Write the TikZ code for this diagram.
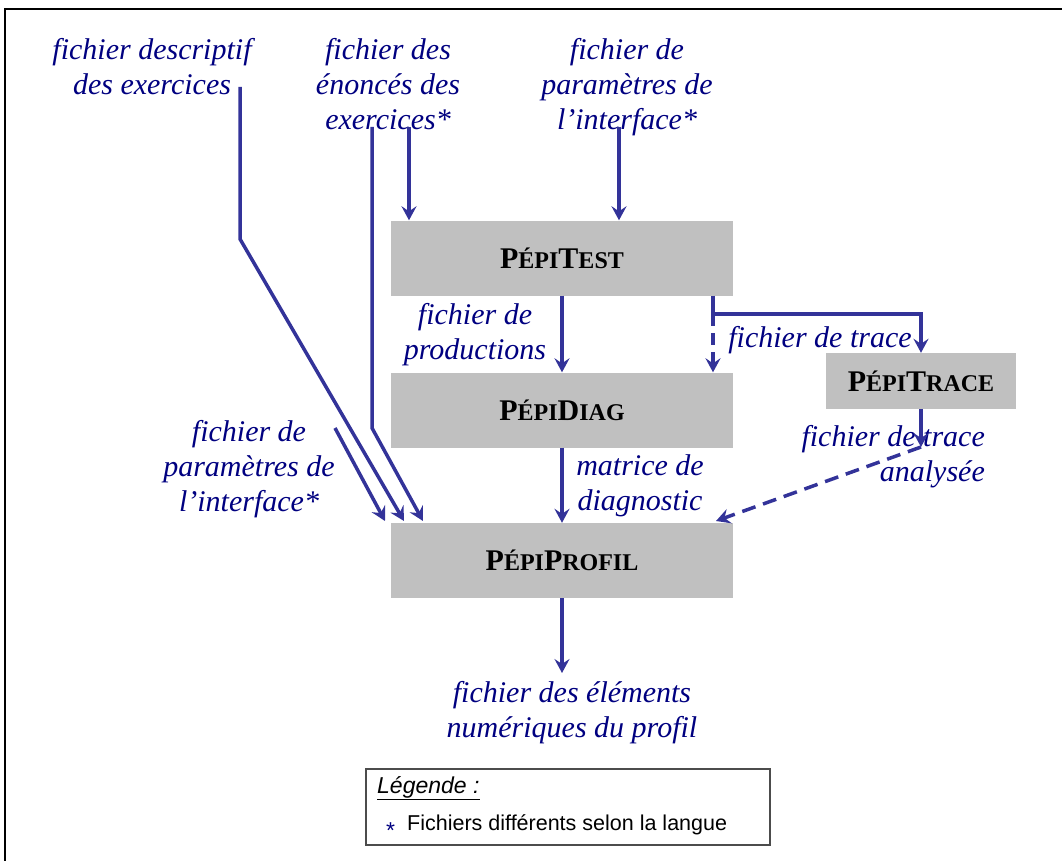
\documentclass[tikz,border=0pt]{standalone}
\usepackage{fontspec}
\setmainfont{Liberation Serif}
\setsansfont{Liberation Sans}
\usepackage{tikz}
\usetikzlibrary{arrows.meta}
\definecolor{flowblue}{RGB}{51,51,153}
\definecolor{fileblue}{RGB}{0,0,128}
\definecolor{progray}{RGB}{192,192,192}
\newcommand{\smc}[1]{{\fontsize{24}{24}\selectfont #1}}

\begin{document}
\begin{tikzpicture}[x=1pt,y=-1pt,
    prog/.style={fill=progray, minimum width=342pt, minimum height=75pt, inner sep=0pt,
      font=\fontsize{30}{30}\selectfont\bfseries},
    file/.style={text=fileblue, inner sep=0pt, align=center, font=\fontsize{30}{35}\selectfont\itshape},
    flow/.style={draw=flowblue, line width=3.5pt, -{Stealth[length=14pt,width=15pt,inset=5pt]}},
    legtext/.style={anchor=base west, inner sep=0pt, font=\sffamily\fontsize{21.5}{21.5}\selectfont}]
      \useasboundingbox (0,0) rectangle (1062,861);
      \draw [line width=2pt] (5,861) -- (5,9) -- (1062,9);
      % programmes
      \node (test) [prog] at (562,258) {P\smc{ÉPI}T\smc{EST}};
      \node (diag) [prog] at (562,410) {P\smc{ÉPI}D\smc{IAG}};
      \node (profil) [prog] at (562,560.5) {P\smc{ÉPI}P\smc{ROFIL}};
      \node (trace) [prog, minimum width=190pt, minimum height=56pt] at (921,381) {P\smc{ÉPI}T\smc{RACE}};
      % fichiers
      \node (desc) [file, anchor=north] at (152,38) {fichier descriptif\\des exercices};
      \node (enon) [file, anchor=north] at (388,38) {fichier des\\énoncés des\\exercices*};
      \node (param) [file, anchor=north] at (627,38.5) {fichier de\\paramètres de\\l’interface*};
      \node (prod) [file, anchor=north] at (475,303) {fichier de\\productions};
      \node (tracef) [file, anchor=north] at (820,326) {fichier de trace};
      \node (analyse) [file, anchor=north east, align=right] at (985,425) {fichier de trace\\analysée};
      \node (matrice) [file, anchor=north] at (640,454) {matrice de\\diagnostic};
      \node (paramb) [file, anchor=north] at (249,420.5) {fichier de\\paramètres de\\l’interface*};
      \node (elem) [file, anchor=north] at (572,681) {fichier des éléments\\numériques du profil};
      \coordinate (desc1) at (240,87);
      \coordinate (desc2) at (240,239);
      \coordinate (enon1) at (372,127);
      \coordinate (enon2) at (372,428);
      \coordinate (enon3) at (409,127);
      \coordinate (param1) at (619,127);
      \coordinate (paramb1) at (335,428);
      \coordinate (in1) at (385,521);
      \coordinate (in2) at (404,521);
      \coordinate (in3) at (423,521);
      \coordinate (in4) at (716,521);
      \coordinate (split) at (713,314);
      \coordinate (trace1) at (921,314);
      \coordinate (analyse1) at (921,447);
      \coordinate (out1) at (562,673);
      \draw [flow] (desc1) -- (desc2) -- (in2);
      \draw [flow] (enon1) -- (enon2) -- (in3);
      \draw [flow] (paramb1) -- (in1);
      \draw [flow] (enon3) -- (enon3 |- test.north);
      \draw [flow] (param1) -- (param1 |- test.north);
      \draw [flow] (test.south) -- (diag.north);
      \draw [flow] (split |- test.south) -- (split) -- (trace1) -- (trace.north);
      \draw [flow, dash pattern=on 12pt off 7pt] (split) -- (split |- diag.north);
      \draw [flow] (trace.south) -- (analyse1);
      \draw [flow, dash pattern=on 14pt off 8pt] (analyse1) -- (in4);
      \draw [flow] (diag.south) -- (profil.north);
      \draw [flow] (profil.south) -- (out1);
      % legende
      \draw [draw=black!70, line width=1.2pt] (366,769) rectangle (770,845);
      \node (leg) [legtext, font=\sffamily\fontsize{23}{23}\selectfont\itshape] at (377,793) {\underline{Légende~:}};
      \node (ast) [legtext, text=fileblue, font=\sffamily\fontsize{23}{23}\selectfont] at (386,838) {*};
      \node (legtxt) [legtext] at (407,830) {Fichiers différents selon la langue};
\end{tikzpicture}
\end{document}
